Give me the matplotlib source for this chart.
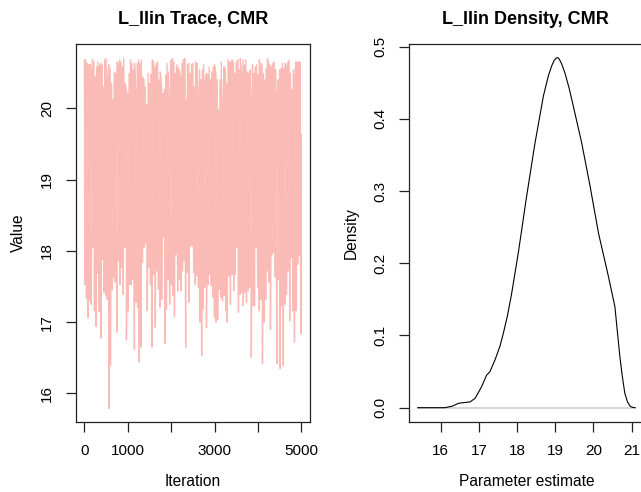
import numpy as np
import matplotlib
matplotlib.use("Agg")
import matplotlib.pyplot as plt

plt.rcParams['font.family'] = ['Liberation Sans', 'DejaVu Sans']

# trace: upper ends of the band (read left to right)
trace_highs = [
    20.68, 20.68, 20.63, 20.61, 20.62, 20.51, 20.68, 20.65, 20.44, 20.58,
    20.65, 20.58, 20.63, 20.61, 20.30, 20.68, 20.70, 20.42, 20.61, 20.56,
    20.35, 20.12, 20.51, 20.49, 20.65, 20.63, 20.68, 20.65, 20.58, 20.70,
    20.35, 20.26, 20.21, 20.49, 20.68, 20.63, 20.54, 20.63, 20.14, 20.63,
    20.68, 20.63, 20.68, 20.44, 20.40, 20.30, 20.05, 20.49, 20.35, 20.47,
    20.68, 20.65, 20.58, 20.63, 20.65, 20.40, 20.51, 20.30, 20.21, 20.26,
    20.47, 20.63, 20.51, 20.05, 20.68, 20.70, 20.65, 20.49, 20.61, 20.58,
    20.54, 20.42, 20.63, 20.68, 20.70, 20.12, 20.61, 20.63, 20.49, 20.61,
    20.63, 20.30, 20.65, 20.63, 20.12, 20.54, 20.40, 20.54, 20.61, 20.35,
    20.49, 20.47, 20.58, 20.40, 20.51, 20.58, 20.61, 20.49, 20.40, 19.98,
    20.40, 20.65, 19.98, 20.58, 20.56, 20.35, 20.68, 20.65, 20.65, 20.68,
    20.63, 20.49, 20.65, 20.68, 20.54, 20.70, 20.44, 20.68, 20.61, 20.68,
    20.51, 20.49, 20.54, 20.02, 20.61, 20.49, 20.58, 20.61, 20.47, 20.68,
    20.58, 20.63, 20.49, 20.40, 20.56, 20.70, 20.63, 20.61, 20.58, 20.63,
    20.65, 20.54, 20.12, 20.40, 20.54, 20.56, 20.63, 20.56, 20.63, 20.58,
    20.65, 20.68, 20.49, 20.26, 20.54, 20.44, 20.65, 20.65, 20.65, 20.65,
    19.63,
]

# trace: lower ends of the band (read left to right)
trace_lows = [
    17.53, 17.34, 17.06, 17.31, 17.25, 18.05, 17.16, 16.94, 17.69, 17.15,
    16.78, 17.88, 17.42, 17.37, 17.32, 15.79, 16.39, 17.46, 17.63, 17.56,
    16.86, 17.86, 17.53, 17.77, 17.39, 18.05, 16.75, 17.16, 17.53, 17.53,
    17.60, 16.62, 17.28, 17.21, 16.44, 16.65, 17.84, 18.05, 18.10, 17.16,
    17.77, 17.53, 16.65, 17.67, 16.93, 17.72,
    17.46, 17.21, 17.32, 18.20, 16.70, 17.18, 17.60, 17.25, 17.53, 17.37,
    17.08, 17.95, 17.44, 17.60, 17.44, 17.72, 17.86, 16.65, 17.70, 17.28,
    18.07, 18.07, 17.70, 17.53, 17.65, 17.49, 17.00, 16.53, 17.18, 17.49,
    16.92, 17.53, 17.67, 17.51, 17.35, 17.07, 17.00, 17.04, 17.46, 17.35,
    17.30, 17.37, 17.16, 17.00, 17.65, 17.25, 17.67, 17.44,
    17.67, 18.05, 17.14, 17.39, 17.42, 17.23, 17.42, 17.28, 17.44, 17.49,
    16.51, 17.23, 17.23, 18.05, 17.49, 17.16, 17.32, 16.42, 17.00, 17.32,
    17.72, 17.56, 16.90, 17.95, 17.98, 17.63, 16.42, 17.60, 16.35, 17.23,
    16.39, 17.25, 17.39, 17.72, 17.02, 17.91, 17.16, 16.72, 17.16, 17.81,
    17.93, 16.84,
]

n_iter = 5000

# posterior density curve
dens_x = [15.40, 15.80, 16.11, 16.30, 16.46, 16.60, 16.77, 16.90, 17.07,
          17.20, 17.29, 17.42, 17.55, 17.64, 17.75, 17.86, 18.03, 18.25,
          18.47, 18.69, 18.82, 18.91, 18.97, 19.02, 19.06, 19.10, 19.16,
          19.25, 19.36, 19.47, 19.69, 19.91, 20.13, 20.39, 20.56, 20.69,
          20.75, 20.82, 20.89, 20.96, 21.02, 21.09]
dens_y = [0.000, 0.000, 0.000, 0.002, 0.006, 0.007, 0.008, 0.013, 0.029,
          0.045, 0.050, 0.066, 0.085, 0.103, 0.128, 0.159, 0.214, 0.293,
          0.367, 0.432, 0.460, 0.474, 0.481, 0.484, 0.485, 0.483, 0.477,
          0.464, 0.443, 0.418, 0.367, 0.307, 0.242, 0.182, 0.140, 0.071,
          0.045, 0.020, 0.008, 0.002, 0.0005, 0.000]

W, H = 641, 492
fig = plt.figure(figsize=(W / 100, H / 100), dpi=100)


def px_axes(x0, y0, x1, y1):
    return fig.add_axes([x0 / W, 1 - y1 / H, (x1 - x0) / W, (y1 - y0) / H])


def style(ax):
    for s in ax.spines.values():
        s.set_linewidth(0.9)
        s.set_color('#222222')
    ax.tick_params(direction='out', length=7.2, width=0.9, pad=8.5,
                   labelsize=11, color='#222222')
    ax.tick_params(axis='y', labelrotation=90)
    for t in ax.get_yticklabels():
        t.set_va('center')


# ---- trace panel
ax1 = px_axes(75.7, 44.3, 310, 421.7)
hx = np.linspace(1, n_iter, len(trace_highs))
lx = np.linspace(12, n_iter - 10, len(trace_lows))
xs = np.concatenate([hx, lx])
ys = np.concatenate([trace_highs, trace_lows])
order = np.argsort(xs, kind='stable')
ax1.plot(xs[order], ys[order], color='#FABBB6', lw=1.0)
ax1.set_xlim(-199, 5200)
ax1.set_ylim(15.604, 20.898)
ax1.set_xticks([0, 1000, 2000, 3000, 4000, 5000])
ax1.set_xticklabels(['0', '1000', '', '3000', '', '5000'])
ax1.set_yticks([16, 17, 18, 19, 20])
style(ax1)

# ---- density panel
ax2 = px_axes(409, 44.3, 642.5, 421.7)
ax2.plot([dens_x[0], dens_x[-1]], [0, 0], color='#D3D3D3', lw=1.3)
ax2.plot(dens_x, dens_y, color='black', lw=0.8)
ax2.set_xlim(15.170, 21.283)
ax2.set_ylim(-0.0194, 0.5033)
ax2.set_xticks([16, 17, 18, 19, 20, 21])
ax2.set_yticks([0.0, 0.1, 0.2, 0.3, 0.4, 0.5])
ax2.set_yticklabels(['0.0', '0.1', '0.2', '0.3', '0.4', '0.5'])
style(ax2)

# titles and axis labels
fig.text(192.8 / W, 1 - 24.3 / H, 'L_llin Trace, CMR', ha='center',
         va='baseline', fontsize=13, fontweight='bold')
fig.text(525.7 / W, 1 - 24.3 / H, 'L_llin Density, CMR', ha='center',
         va='baseline', fontsize=13, fontweight='bold')
fig.text(192.8 / W, 1 - 486 / H, 'Iteration', ha='center', va='baseline',
         fontsize=11.2)
fig.text(526.7 / W, 1 - 486 / H, 'Parameter estimate', ha='center',
         va='baseline', fontsize=11.2)
fig.text(18 / W, 1 - 233 / H, 'Value', rotation=90, ha='center',
         va='center', fontsize=11.2)
fig.text(351.7 / W, 1 - 233 / H, 'Density', rotation=90, ha='center',
         va='center', fontsize=11.2)

fig.savefig('out.png', dpi=100)
